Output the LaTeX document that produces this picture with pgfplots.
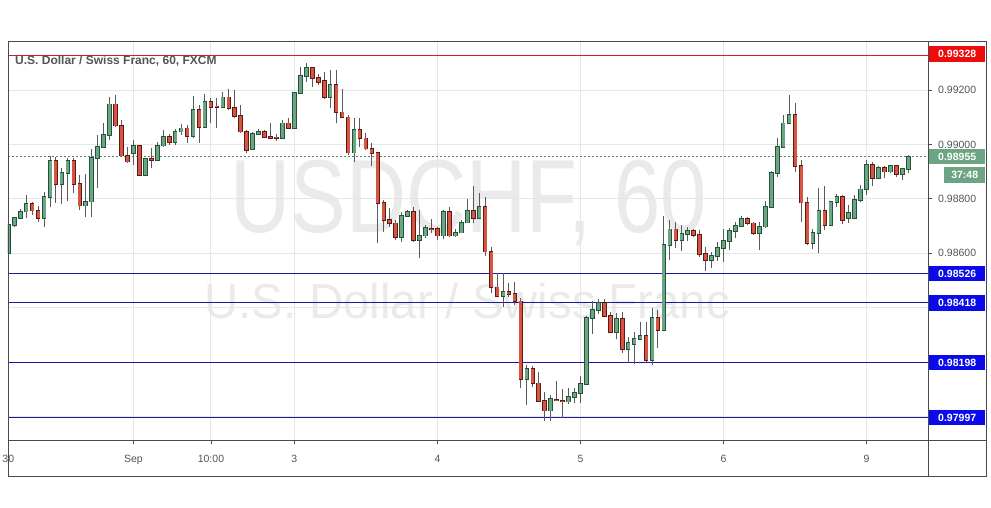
\documentclass[border=0pt]{standalone}
\usepackage{pgfplots}
\pgfplotsset{compat=1.18}
\usepackage{pgfplotstable}
\usepackage{fontspec}
\setmainfont{Liberation Sans}
\definecolor{gfill}{HTML}{6BA583}
\definecolor{gedge}{HTML}{225437}
\definecolor{rfill}{HTML}{D75442}
\definecolor{redge}{HTML}{5B1A13}
\definecolor{wick}{HTML}{5A5A5A}
\definecolor{gridc}{HTML}{E6E6E6}
\definecolor{framec}{HTML}{4A4A4A}
\definecolor{txtc}{HTML}{555555}
\definecolor{navyl}{HTML}{1A1AA0}
\definecolor{bluebox}{HTML}{0A0AEB}
\definecolor{redbox}{HTML}{F00A0A}
\definecolor{redline}{HTML}{E01818}
\definecolor{wm}{HTML}{EAEAEA}
\definecolor{dotc}{HTML}{5F7A6A}

\pgfplotstableread{
x o h l c
0 0.98601 0.98716 0.98590 0.98703
1 0.98703 0.98735 0.98698 0.98729
2 0.98729 0.98762 0.98725 0.98753
3 0.98753 0.98814 0.98729 0.98780
6 0.98729 0.98826 0.98698 0.98806
7 0.98806 0.98958 0.98771 0.98940
9 0.98854 0.98913 0.98780 0.98894
10 0.98894 0.98950 0.98793 0.98940
13 0.98775 0.98891 0.98732 0.98790
14 0.98790 0.98984 0.98732 0.98950
15 0.98950 0.99035 0.98841 0.98990
16 0.98990 0.99077 0.98986 0.99035
17 0.99035 0.99175 0.99017 0.99147
21 0.98968 0.99017 0.98925 0.98996
23 0.98888 0.98947 0.98886 0.98946
25 0.98943 0.99010 0.98940 0.98995
26 0.98996 0.99053 0.98992 0.99027
28 0.99008 0.99057 0.98998 0.99047
29 0.99047 0.99074 0.99035 0.99059
31 0.99031 0.99178 0.99022 0.99126
33 0.99063 0.99185 0.99059 0.99155
36 0.99138 0.99194 0.99135 0.99173
41 0.98983 0.99047 0.98980 0.99038
42 0.99038 0.99057 0.99035 0.99047
46 0.99022 0.99090 0.99020 0.99077
48 0.99061 0.99193 0.99060 0.99188
49 0.99188 0.99285 0.99184 0.99251
50 0.99251 0.99298 0.99230 0.99282
54 0.99173 0.99273 0.99133 0.99218
58 0.98970 0.99096 0.98937 0.99053
66 0.98661 0.98753 0.98643 0.98737
67 0.98737 0.98759 0.98734 0.98751
69 0.98649 0.98759 0.98582 0.98665
70 0.98665 0.98704 0.98655 0.98692
73 0.98665 0.98759 0.98652 0.98753
75 0.98665 0.98690 0.98660 0.98676
76 0.98676 0.98722 0.98674 0.98713
77 0.98713 0.98799 0.98710 0.98757
79 0.98729 0.98823 0.98725 0.98771
83 0.98444 0.98529 0.98404 0.98457
87 0.98137 0.98190 0.98043 0.98174
91 0.98022 0.98079 0.97985 0.98064
94 0.98055 0.98104 0.98046 0.98071
95 0.98071 0.98104 0.98051 0.98086
96 0.98086 0.98149 0.98051 0.98120
97 0.98120 0.98370 0.98116 0.98362
98 0.98362 0.98423 0.98304 0.98392
99 0.98392 0.98432 0.98378 0.98417
102 0.98311 0.98382 0.98284 0.98358
104 0.98248 0.98294 0.98196 0.98270
105 0.98267 0.98312 0.98194 0.98284
106 0.98284 0.98349 0.98282 0.98296
108 0.98208 0.98398 0.98190 0.98362
110 0.98317 0.98737 0.98316 0.98630
111 0.98630 0.98722 0.98575 0.98688
113 0.98649 0.98704 0.98608 0.98671
114 0.98671 0.98698 0.98645 0.98683
118 0.98575 0.98606 0.98545 0.98591
119 0.98591 0.98643 0.98573 0.98620
120 0.98620 0.98688 0.98569 0.98646
121 0.98646 0.98692 0.98612 0.98683
122 0.98683 0.98716 0.98655 0.98701
123 0.98701 0.98737 0.98698 0.98725
126 0.98674 0.98716 0.98612 0.98698
127 0.98698 0.98793 0.98692 0.98771
128 0.98771 0.98903 0.98767 0.98894
129 0.98894 0.99022 0.98881 0.98990
130 0.98990 0.99108 0.98986 0.99077
131 0.99077 0.99181 0.99075 0.99108
135 0.98637 0.98688 0.98615 0.98674
136 0.98674 0.98839 0.98600 0.98757
138 0.98704 0.98793 0.98700 0.98788
139 0.98788 0.98818 0.98769 0.98808
141 0.98729 0.98778 0.98711 0.98749
142 0.98729 0.98814 0.98725 0.98796
143 0.98796 0.98851 0.98790 0.98835
144 0.98835 0.98941 0.98814 0.98924
146 0.98876 0.98921 0.98873 0.98913
148 0.98900 0.98925 0.98894 0.98921
150 0.98890 0.98913 0.98869 0.98909
151 0.98909 0.98962 0.98894 0.98955
}\greendata

\pgfplotstableread{
x o h l c
4 0.98780 0.98790 0.98741 0.98757
5 0.98757 0.98775 0.98716 0.98729
8 0.98940 0.98955 0.98784 0.98854
11 0.98940 0.98950 0.98821 0.98854
12 0.98854 0.98888 0.98759 0.98775
18 0.99147 0.99181 0.99065 0.99069
19 0.99069 0.99090 0.98955 0.98959
20 0.98959 0.98992 0.98931 0.98937
22 0.98996 0.98998 0.98886 0.98888
24 0.98946 0.98986 0.98913 0.98942
27 0.99027 0.99038 0.98998 0.99008
30 0.99059 0.99071 0.99005 0.99031
32 0.99126 0.99145 0.99005 0.99063
34 0.99155 0.99169 0.99077 0.99136
35 0.99140 0.99169 0.99059 0.99137
37 0.99173 0.99202 0.99126 0.99133
38 0.99133 0.99200 0.99096 0.99105
39 0.99105 0.99145 0.99041 0.99047
40 0.99047 0.99053 0.98970 0.98980
43 0.99047 0.99053 0.99022 0.99027
44 0.99027 0.99080 0.99020 0.99023
45 0.99026 0.99038 0.99012 0.99024
47 0.99077 0.99096 0.99056 0.99061
51 0.99282 0.99285 0.99212 0.99243
52 0.99243 0.99258 0.99218 0.99230
53 0.99233 0.99265 0.99166 0.99173
55 0.99218 0.99273 0.99077 0.99118
56 0.99118 0.99202 0.99096 0.99099
57 0.99099 0.99108 0.98962 0.98970
59 0.99053 0.99096 0.98992 0.99022
60 0.99022 0.99041 0.98980 0.98985
61 0.98985 0.99007 0.98921 0.98968
62 0.98968 0.98969 0.98637 0.98784
63 0.98784 0.98796 0.98680 0.98722
64 0.98722 0.98765 0.98698 0.98710
65 0.98710 0.98722 0.98649 0.98661
68 0.98751 0.98771 0.98643 0.98649
71 0.98691 0.98726 0.98674 0.98689
72 0.98689 0.98698 0.98649 0.98665
74 0.98753 0.98771 0.98661 0.98665
78 0.98757 0.98847 0.98711 0.98729
80 0.98771 0.98808 0.98590 0.98606
81 0.98606 0.98624 0.98453 0.98475
82 0.98475 0.98529 0.98441 0.98444
84 0.98457 0.98490 0.98441 0.98451
85 0.98450 0.98496 0.98411 0.98423
86 0.98423 0.98435 0.98104 0.98137
88 0.98174 0.98186 0.98110 0.98122
89 0.98122 0.98165 0.98055 0.98058
90 0.98058 0.98092 0.97985 0.98022
92 0.98062 0.98132 0.98058 0.98060
93 0.98058 0.98101 0.97994 0.98055
100 0.98417 0.98432 0.98365 0.98370
101 0.98370 0.98386 0.98306 0.98311
103 0.98358 0.98386 0.98233 0.98248
107 0.98296 0.98349 0.98202 0.98208
109 0.98362 0.98392 0.98251 0.98317
112 0.98688 0.98716 0.98618 0.98649
115 0.98683 0.98688 0.98661 0.98668
116 0.98668 0.98686 0.98585 0.98597
117 0.98597 0.98624 0.98536 0.98575
124 0.98725 0.98732 0.98704 0.98710
125 0.98710 0.98716 0.98668 0.98674
132 0.99108 0.99151 0.98897 0.98921
133 0.98921 0.98943 0.98716 0.98786
134 0.98786 0.98808 0.98630 0.98637
137 0.98757 0.98847 0.98686 0.98704
140 0.98808 0.98814 0.98708 0.98722
145 0.98924 0.98937 0.98847 0.98876
147 0.98913 0.98921 0.98876 0.98900
149 0.98921 0.98925 0.98880 0.98890
}\reddata

\pgfplotsset{
  candle/.style={draw=none, mark=none, forget plot,
    error bars/.cd, y dir=plus, y explicit, error mark=none},
}

\begin{document}
\begin{tikzpicture}
\useasboundingbox (0pt,0pt) rectangle (991pt,507pt);
\fill[white] (0pt,0pt) rectangle (991pt,507pt);
% watermarks
\node[text=wm, font=\fontsize{104}{104}\selectfont, anchor=base, inner sep=0pt] at (469pt,275pt) {\scalebox{0.8}[1]{USDCHF, 60}};
\node[text=wm, font=\fontsize{49}{49}\selectfont, anchor=base, inner sep=0pt] at (467pt,189pt) {\scalebox{0.965}[1]{U.S. Dollar / Swiss Franc}};
\begin{axis}[
  at={(8pt,67pt)}, anchor=south west,
  scale only axis, width=920pt, height=398pt,
  xmin=-0.05, xmax=154.3,
  ymin=0.97914, ymax=0.993764,
  scaled y ticks=false,
  axis line style={draw=none},
  xtick={0,21,34,48,72,96,120,144},
  xticklabels={30,Sep,10:00,3,4,5,6,9},
  ytick={0.980,0.982,0.984,0.986,0.988,0.990,0.992},
  yticklabels={,,0.98400,0.98600,0.98800,0.99000,0.99200},
  xtick pos=bottom, ytick pos=right, yticklabel pos=right,
  tick align=outside, major tick length=4pt,
  tick style={draw=framec, line width=0.8pt},
  grid=major, grid style={draw=gridc, line width=1pt},
  ticklabel style={font=\fontsize{10.5}{12}\selectfont, text=txtc},
  yticklabel style={anchor=west, inner sep=0pt, xshift=6pt},
  xticklabel style={anchor=base, inner sep=0pt, yshift=-18pt},
]
% level lines
\addplot[redline, line width=1pt, forget plot] coordinates {(-0.05,0.99328) (154.3,0.99328)};
\addplot[navyl, line width=1pt, forget plot] coordinates {(-0.05,0.98526) (154.3,0.98526)};
\addplot[navyl, line width=1pt, forget plot] coordinates {(-0.05,0.98418) (154.3,0.98418)};
\addplot[navyl, line width=1pt, forget plot] coordinates {(-0.05,0.98198) (154.3,0.98198)};
\addplot[navyl, line width=1pt, forget plot] coordinates {(-0.05,0.97997) (154.3,0.97997)};
\addplot[dotc, line width=0.8pt, dash pattern=on 2pt off 2pt, forget plot] coordinates {(-0.05,0.98955) (154.3,0.98955)};
% wicks
\addplot[candle, error bar style={draw=wick, line width=1pt}]
  table[x=x, y=l, y error plus expr=\thisrow{h}-\thisrow{l}] {\greendata};
\addplot[candle, error bar style={draw=wick, line width=1pt}]
  table[x=x, y=l, y error plus expr=\thisrow{h}-\thisrow{l}] {\reddata};
% green bodies
\addplot[candle, error bar style={draw=gedge, line width=4.6pt}]
  table[x=x, y expr=\thisrow{o}-0.00003, y error plus expr=\thisrow{c}-\thisrow{o}+0.00006] {\greendata};
\addplot[candle, error bar style={draw=gfill, line width=3.0pt}]
  table[x=x, y=o, y error plus expr=\thisrow{c}-\thisrow{o}] {\greendata};
% red bodies
\addplot[candle, error bar style={draw=redge, line width=4.6pt}]
  table[x=x, y expr=\thisrow{c}-0.00003, y error plus expr=\thisrow{o}-\thisrow{c}+0.00006] {\reddata};
\addplot[candle, error bar style={draw=rfill, line width=3.0pt}]
  table[x=x, y=c, y error plus expr=\thisrow{o}-\thisrow{c}] {\reddata};
\end{axis}
% frame
\draw[framec, line width=1pt] (8pt,31pt) rectangle (986pt,465pt);
\draw[framec, line width=1pt] (8pt,67pt) -- (986pt,67pt);
\draw[framec, line width=1pt] (928pt,31pt) -- (928pt,465pt);
% title
\node[anchor=base west, inner sep=0pt, text=txtc, font=\bfseries\fontsize{12}{14}\selectfont] at (15pt,442pt) {U.S. Dollar / Swiss Franc, 60, FXCM};
% price boxes
\tikzset{pbox/.style={anchor=west, inner sep=0pt, minimum width=56pt, minimum height=15.5pt, text=white, font=\bfseries\fontsize{10.5}{12}\selectfont}}
\node[pbox, fill=redbox] at (929pt,453pt) {0.99328};
\node[pbox, fill=gfill] at (929pt,350.5pt) {0.98955};
\node[pbox, fill=gfill, minimum width=41pt] at (944pt,332pt) {37:48};
\node[pbox, fill=bluebox] at (929pt,233.6pt) {0.98526};
\node[pbox, fill=bluebox] at (929pt,204.2pt) {0.98418};
\node[pbox, fill=bluebox] at (929pt,144.3pt) {0.98198};
\node[pbox, fill=bluebox] at (929pt,89.6pt) {0.97997};
\end{tikzpicture}
\end{document}
